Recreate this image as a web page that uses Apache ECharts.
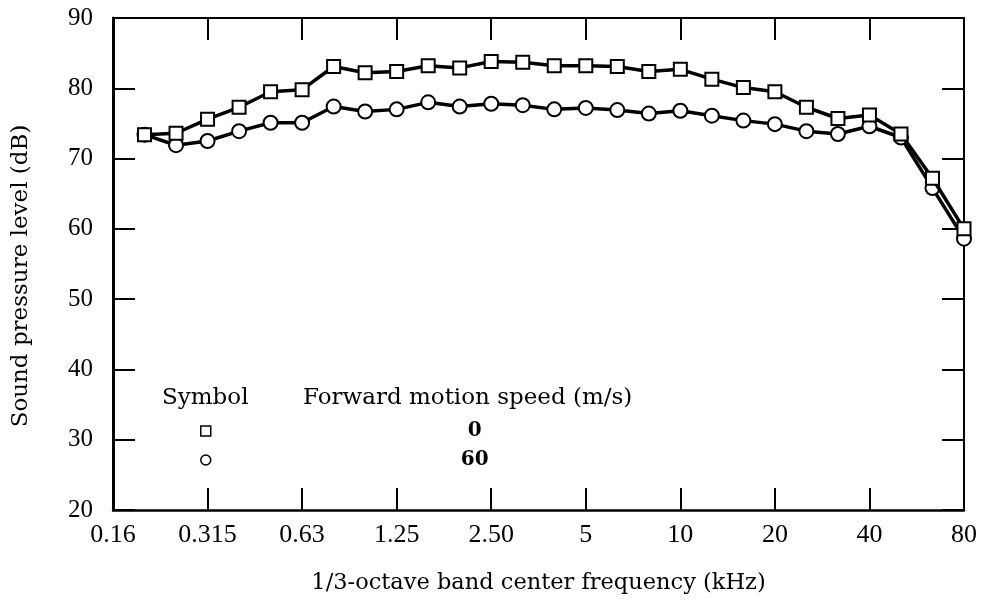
<!DOCTYPE html>
<html>
<head>
<meta charset="utf-8">
<script src="https://cdn.jsdelivr.net/npm/echarts@6/dist/echarts.min.js"></script>
<style>
html,body{margin:0;padding:0;background:#fff;}
#chart{width:981px;height:600px;}
</style>
</head>
<body>
<div id="chart"></div>
<script>
// 1/3-octave band centre frequencies (kHz)
var bands = ['0.16','0.2','0.25','0.315','0.4','0.5','0.63','0.8','1','1.25','1.6','2','2.50','3.15','4','5','6.3','8','10','12.5','16','20','25','31.5','40','50','63','80'];
// Labelled ticks
var tickLabels = ['0.16','0.315','0.63','1.25','2.50','5','10','20','40','80'];
// Sound pressure level (dB), forward speed 0 m/s (squares)
var speed0 = [null,73.4,73.6,75.6,77.3,79.5,79.8,83.1,82.2,82.4,83.2,82.9,83.8,83.7,83.2,83.2,83.1,82.4,82.7,81.3,80.1,79.5,77.3,75.7,76.2,73.5,67.2,60.0];
// Sound pressure level (dB), forward speed 60 m/s (circles)
var speed60 = [null,73.4,71.9,72.5,73.9,75.1,75.1,77.4,76.7,77.0,78.0,77.4,77.8,77.6,77.0,77.2,76.9,76.4,76.8,76.1,75.4,74.9,73.9,73.5,74.6,73.0,65.8,58.6];
var yTicks = [20,30,40,50,60,70,80,90];

var SERIF = 'Liberation Serif';
var SERIF2 = 'DejaVu Serif';

var chart = echarts.init(document.getElementById('chart'));
var tickStyle = {show:true, inside:true, length:22, lineStyle:{color:'#000', width:2}};

chart.setOption({
  animation:false,
  backgroundColor:'#fff',
  grid:{left:113, right:17, top:18, bottom:89, containLabel:false},
  xAxis:[{
    type:'category', data:bands, boundaryGap:false, position:'bottom',
    axisLine:{show:true, onZero:false, lineStyle:{color:'#000', width:2.5}},
    axisTick:Object.assign({}, tickStyle, {interval:2}),
    axisLabel:{interval:2, margin:12, color:'#000', fontFamily:SERIF, fontSize:26,
      formatter:function(v){ return tickLabels.indexOf(v) >= 0 ? v : ''; }},
    splitLine:{show:false},
    name:'1/3-octave band center frequency (kHz)', nameLocation:'middle', nameGap:62,
    nameTextStyle:{color:'#000', fontFamily:SERIF2, fontSize:22.5}
  },{
    type:'category', data:bands, boundaryGap:false, position:'top',
    axisLine:{show:true, onZero:false, lineStyle:{color:'#000', width:2}},
    axisTick:Object.assign({}, tickStyle, {interval:2}),
    axisLabel:{show:false}, splitLine:{show:false}
  }],
  yAxis:[{
    type:'value', min:20, max:90, interval:10, position:'left',
    axisLine:{show:true, lineStyle:{color:'#000', width:3}},
    axisTick:tickStyle,
    axisLabel:{margin:20, color:'#000', fontFamily:SERIF, fontSize:25},
    splitLine:{show:false},
    name:'Sound pressure level (dB)', nameLocation:'middle', nameGap:80, nameRotate:90,
    nameTextStyle:{color:'#000', fontFamily:SERIF2, fontSize:23, padding:[0,24,0,0]}
  },{
    type:'value', min:20, max:90, interval:10, position:'right',
    axisLine:{show:true, lineStyle:{color:'#000', width:2}},
    axisTick:tickStyle,
    axisLabel:{show:false}, splitLine:{show:false}
  }],
  legend:{
    orient:'vertical', left:195, top:416, itemWidth:10, itemHeight:10, itemGap:9,
    selectedMode:false,
    data:[
      {name:'0', icon:'rect', itemStyle:{color:'#fff', borderColor:'#000', borderWidth:1.5}},
      {name:'60', icon:'circle', itemStyle:{color:'#fff', borderColor:'#000', borderWidth:1.5}}
    ],
    formatter:function(n){ return '{a|' + n + '}'; },
    textStyle:{color:'#000', fontFamily:SERIF2, fontSize:20,
      rich:{a:{width:518, align:'center', fontFamily:SERIF2, fontSize:20, color:'#000', fontWeight:'bold'}}}
  },
  graphic:[
    {type:'text', left:162, top:387, style:{text:'Symbol', font:'23px "DejaVu Serif"', fill:'#000'}},
    {type:'text', left:303, top:387, style:{text:'Forward motion speed (m/s)', font:'23px "DejaVu Serif"', fill:'#000'}}
  ],
  series:[{
    name:'0', type:'line', data:speed0, xAxisIndex:0, yAxisIndex:0,
    symbol:'rect', symbolSize:13, showAllSymbol:true, connectNulls:false,
    lineStyle:{color:'#000', width:3.5},
    itemStyle:{color:'#fff', borderColor:'#000', borderWidth:2},
    emphasis:{disabled:true}, z:3
  },{
    name:'60', type:'line', data:speed60, xAxisIndex:0, yAxisIndex:0,
    symbol:'circle', symbolSize:14, showAllSymbol:true,
    lineStyle:{color:'#000', width:3.5},
    itemStyle:{color:'#fff', borderColor:'#000', borderWidth:2},
    emphasis:{disabled:true}, z:2
  }]
});
</script>
</body>
</html>
